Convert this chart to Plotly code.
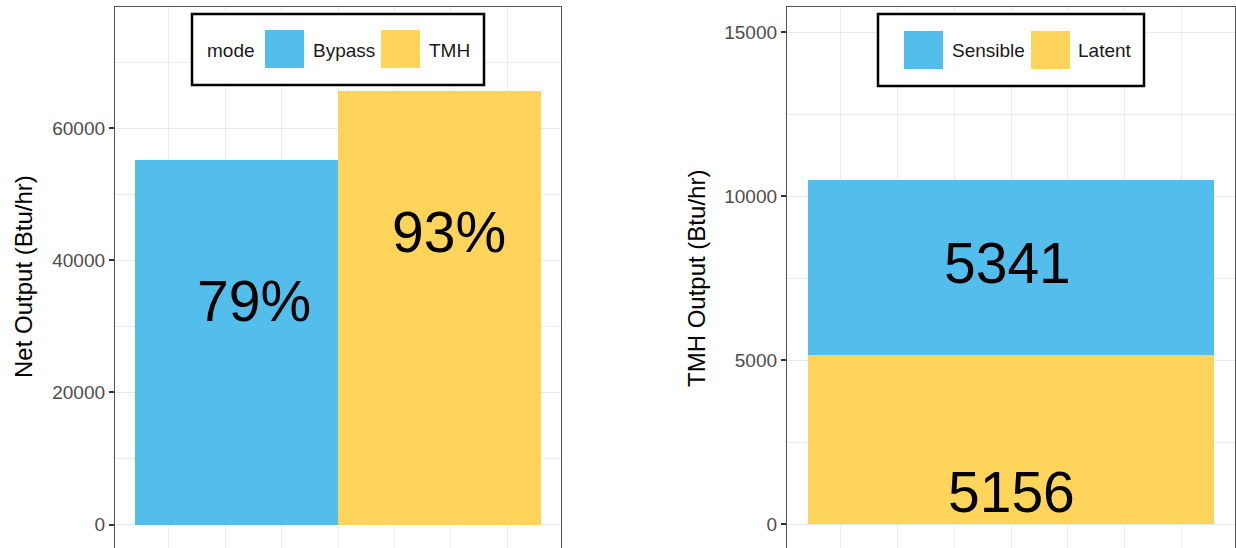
import plotly.graph_objects as go

W, H = 1236, 548

# ---------------- data ----------------
modes = ["Bypass", "TMH"]
net_output = [55200, 65600]
efficiency_labels = ["79%", "93%"]

components = ["Latent", "Sensible"]          # stacking order, bottom -> top
tmh_output = [5156, 5341]
legend2_order = ["Sensible", "Latent"]

left_ticks = [0, 20000, 40000, 60000]
right_ticks = [0, 5000, 10000, 15000]

left_title = "Net Output (Btu/hr)"
right_title = "TMH Output (Btu/hr)"
legend1_title = "mode"

# ---------------- style ----------------
BLUE = "#53BEEC"
YELLOW = "#FFD45A"
colors = {"Bypass": BLUE, "TMH": YELLOW, "Sensible": BLUE, "Latent": YELLOW}
FONT = "Liberation Sans, Arial, sans-serif"
GRID = "#ebebeb"
BORDER = "#555555"

def px_x(p):
    return p / W

def px_y(p):
    return 1 - p / H

XR = [-3.95, 3.95]
bw_left = 3.59
bw_right = 7.16

fig = go.Figure()

# left panel bars (dodged)
n = len(modes)
left_pos = [(i - (n - 1) / 2) * bw_left for i in range(n)]
for m, v, p in zip(modes, net_output, left_pos):
    fig.add_trace(go.Bar(x=[p], y=[v], width=[bw_left], name=m,
                         marker=dict(color=colors[m], line=dict(width=0)),
                         xaxis="x", yaxis="y", showlegend=False,
                         hoverinfo="name+y"))

# right panel bars (stacked)
for c, v in zip(components, tmh_output):
    fig.add_trace(go.Bar(x=[0], y=[v], width=[bw_right], name=c,
                         marker=dict(color=colors[c], line=dict(width=0)),
                         xaxis="x2", yaxis="y2", showlegend=False,
                         hoverinfo="name+y"))

annotations = []
# value labels, left panel
label_drop = 21350
label_shift = [17, 10]
for lab, v, p, s in zip(efficiency_labels, net_output, left_pos, label_shift):
    annotations.append(dict(x=p, y=v - label_drop, xref="x", yref="y", text=lab,
                            showarrow=False, xshift=s,
                            font=dict(family=FONT, size=57, color="black"),
                            xanchor="center", yanchor="middle"))
# value labels, right panel
cum = 0
seg_mid = []
for v in tmh_output:
    seg_mid.append(cum + v / 2)
    cum += v
right_label_y = [975, seg_mid[1] + 150]
right_shift = [0, -4]
for v, yy, s in zip(tmh_output, right_label_y, right_shift):
    annotations.append(dict(x=0, y=yy, xref="x2", yref="y2", text=str(v),
                            showarrow=False, xshift=s,
                            font=dict(family=FONT, size=57, color="black"),
                            xanchor="center", yanchor="middle"))

# axis titles
annotations.append(dict(x=px_x(23), y=px_y(277), xref="paper", yref="paper",
                        text=left_title, textangle=-90, showarrow=False,
                        font=dict(family=FONT, size=24, color="black"),
                        xanchor="center", yanchor="middle"))
annotations.append(dict(x=px_x(696), y=px_y(279), xref="paper", yref="paper",
                        text=right_title, textangle=-90, showarrow=False,
                        font=dict(family=FONT, size=24, color="black"),
                        xanchor="center", yanchor="middle"))

shapes = []

def legend_box(x0, x1, y0, y1):
    shapes.append(dict(type="rect", xref="paper", yref="paper",
                       x0=px_x(x0), x1=px_x(x1), y0=px_y(y1), y1=px_y(y0),
                       line=dict(color="black", width=2.5), fillcolor="white",
                       layer="above"))

def swatch(x0, x1, y0, y1, col):
    shapes.append(dict(type="rect", xref="paper", yref="paper",
                       x0=px_x(x0), x1=px_x(x1), y0=px_y(y1), y1=px_y(y0),
                       line=dict(width=0), fillcolor=col, layer="above"))

def legend_text(x, y, t):
    annotations.append(dict(x=px_x(x), y=px_y(y), xref="paper", yref="paper",
                            text=t, showarrow=False, xanchor="left", yanchor="middle",
                            font=dict(family=FONT, size=19, color="#1a1a1a")))

# legend 1
legend_box(192, 484, 14, 85)
legend_text(205, 50, legend1_title)
sw_x = [265, 381]
tx_x = [311, 427]
for m, sx, tx in zip(modes, sw_x, tx_x):
    swatch(sx, sx + 39, 30, 68, colors[m])
    legend_text(tx, 50, m)

# legend 2
legend_box(878, 1144, 14, 86)
sw_x2 = [904, 1031]
tx_x2 = [950, 1076]
for c, sx, tx in zip(legend2_order, sw_x2, tx_x2):
    swatch(sx, sx + 39, 31, 69, colors[c])
    legend_text(tx, 50, c)

ytop = px_y(7)

def minor_vals(ticks):
    step = ticks[1] - ticks[0]
    return step / 2

xaxis_common = dict(range=XR, side="top", showline=True, linecolor=BORDER, linewidth=1.3,
                    showticklabels=False, ticks="", zeroline=False,
                    showgrid=True, gridcolor=GRID, gridwidth=1.2,
                    tickmode="linear", tick0=0, dtick=1, fixedrange=True)

yaxis_common = dict(showline=True, mirror=True, linecolor=BORDER, linewidth=1.3,
                    ticks="outside", ticklen=5, tickwidth=1.5, tickcolor="#333333",
                    tickfont=dict(family=FONT, size=19, color="#4d4d4d"),
                    showgrid=True, gridcolor=GRID, gridwidth=1.3, zeroline=False,
                    tickmode="array", fixedrange=True)

fig.update_layout(
    width=W, height=H,
    margin=dict(l=0, r=0, t=0, b=0),
    paper_bgcolor="white", plot_bgcolor="white",
    barmode="stack", bargap=0,
    showlegend=False,
    xaxis=dict(domain=[px_x(115), px_x(561)], anchor="y", **xaxis_common),
    yaxis=dict(domain=[0, ytop], anchor="x",
               range=[-3560, 78400], tickvals=left_ticks,
               ticktext=[str(t) for t in left_ticks],
               minor=dict(tickmode="linear", tick0=0, dtick=minor_vals(left_ticks),
                          showgrid=True, gridcolor=GRID, gridwidth=1.0, ticks=""),
               **yaxis_common),
    xaxis2=dict(domain=[px_x(787), px_x(1235)], anchor="y2", **xaxis_common),
    yaxis2=dict(domain=[0, ytop], anchor="x2",
                range=[-716, 15762], tickvals=right_ticks,
                ticktext=[str(t) for t in right_ticks],
                minor=dict(tickmode="linear", tick0=0, dtick=minor_vals(right_ticks),
                           showgrid=True, gridcolor=GRID, gridwidth=1.0, ticks=""),
                **yaxis_common),
    annotations=annotations,
    shapes=shapes,
)

fig.write_html("out.html")
